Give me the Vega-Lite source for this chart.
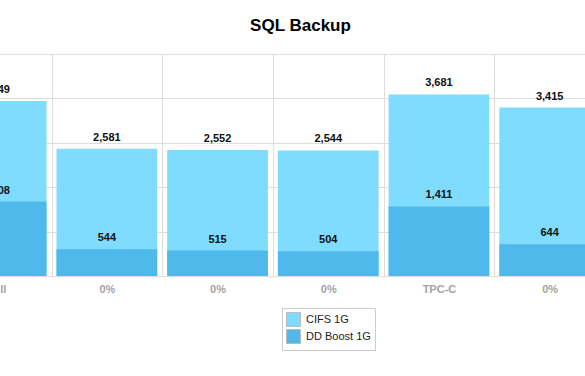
{
  "$schema": "https://vega.github.io/schema/vega-lite/v6.json",
  "width": 585,
  "height": 222,
  "autosize": {"type": "none"},
  "padding": {"left": 0, "top": 54, "right": 0, "bottom": 100},
  "background": "#ffffff",
  "view": {"stroke": null},
  "title": {
    "text": "SQL Backup",
    "font": "Liberation Sans",
    "fontSize": 17,
    "fontWeight": "bold",
    "color": "#000000",
    "anchor": "middle",
    "frame": "group",
    "baseline": "alphabetic",
    "offset": 6,
    "dx": 8
  },
  "data": {
    "values": [
      {"cat": "Full|1", "series": "CIFS 1G", "value": 3549},
      {"cat": "0%|2", "series": "CIFS 1G", "value": 2581},
      {"cat": "0%|3", "series": "CIFS 1G", "value": 2552},
      {"cat": "0%|4", "series": "CIFS 1G", "value": 2544},
      {"cat": "TPC-C|5", "series": "CIFS 1G", "value": 3681},
      {"cat": "0%|6", "series": "CIFS 1G", "value": 3415},
      {"cat": "Full|1", "series": "DD Boost 1G", "value": 1508},
      {"cat": "0%|2", "series": "DD Boost 1G", "value": 544},
      {"cat": "0%|3", "series": "DD Boost 1G", "value": 515},
      {"cat": "0%|4", "series": "DD Boost 1G", "value": 504},
      {"cat": "TPC-C|5", "series": "DD Boost 1G", "value": 1411},
      {"cat": "0%|6", "series": "DD Boost 1G", "value": 644}
    ]
  },
  "encoding": {
    "x": {
      "field": "cat",
      "type": "nominal",
      "sort": null,
      "scale": {"range": [-59.2, 605], "paddingInner": 0, "paddingOuter": 0},
      "axis": {
        "title": null,
        "domain": false,
        "ticks": false,
        "grid": true,
        "tickBand": "extent",
        "gridColor": "#dddddd",
        "gridWidth": 1,
        "labelAngle": 0,
        "labelExpr": "datum.value ? split(datum.value, '|')[0] : ''",
        "labelFont": "Liberation Sans",
        "labelFontSize": 11,
        "labelFontWeight": "bold",
        "labelColor": "#a3a3a3",
        "labelPadding": 7,
        "labelOverlap": false
      }
    },
    "y": {
      "field": "value",
      "type": "quantitative",
      "stack": null,
      "scale": {"domain": [0, 4500], "nice": false},
      "axis": {
        "title": null,
        "labels": false,
        "ticks": false,
        "domain": false,
        "grid": true,
        "values": [0, 900, 1800, 2700, 3600, 4500],
        "gridColor": "#dddddd",
        "gridWidth": 1
      }
    }
  },
  "layer": [
    {
      "mark": {"type": "bar", "width": {"band": 0.91}},
      "encoding": {
        "color": {
          "field": "series",
          "type": "nominal",
          "scale": {"domain": ["CIFS 1G", "DD Boost 1G"], "range": ["#7fdcfe", "#4fb9ec"]},
          "legend": {
            "title": null,
            "orient": "none",
            "legendX": 282,
            "legendY": 254,
            "direction": "vertical",
            "strokeColor": "#cccccc",
            "padding": 4,
            "symbolType": "square",
            "symbolSize": 196,
            "symbolStrokeColor": "#bbbbbb",
            "symbolStrokeWidth": 1,
            "symbolOpacity": 1,
            "labelFont": "Liberation Sans",
            "labelFontSize": 11,
            "labelColor": "#222222",
            "labelOffset": 5,
            "rowPadding": -2
          }
        }
      }
    },
    {
      "mark": {
        "type": "text",
        "font": "Liberation Sans",
        "fontSize": 11,
        "fontWeight": "bold",
        "color": "#111111",
        "baseline": "alphabetic",
        "dy": -8
      },
      "encoding": {
        "text": {"field": "value", "type": "quantitative", "format": ","}
      }
    }
  ]
}
